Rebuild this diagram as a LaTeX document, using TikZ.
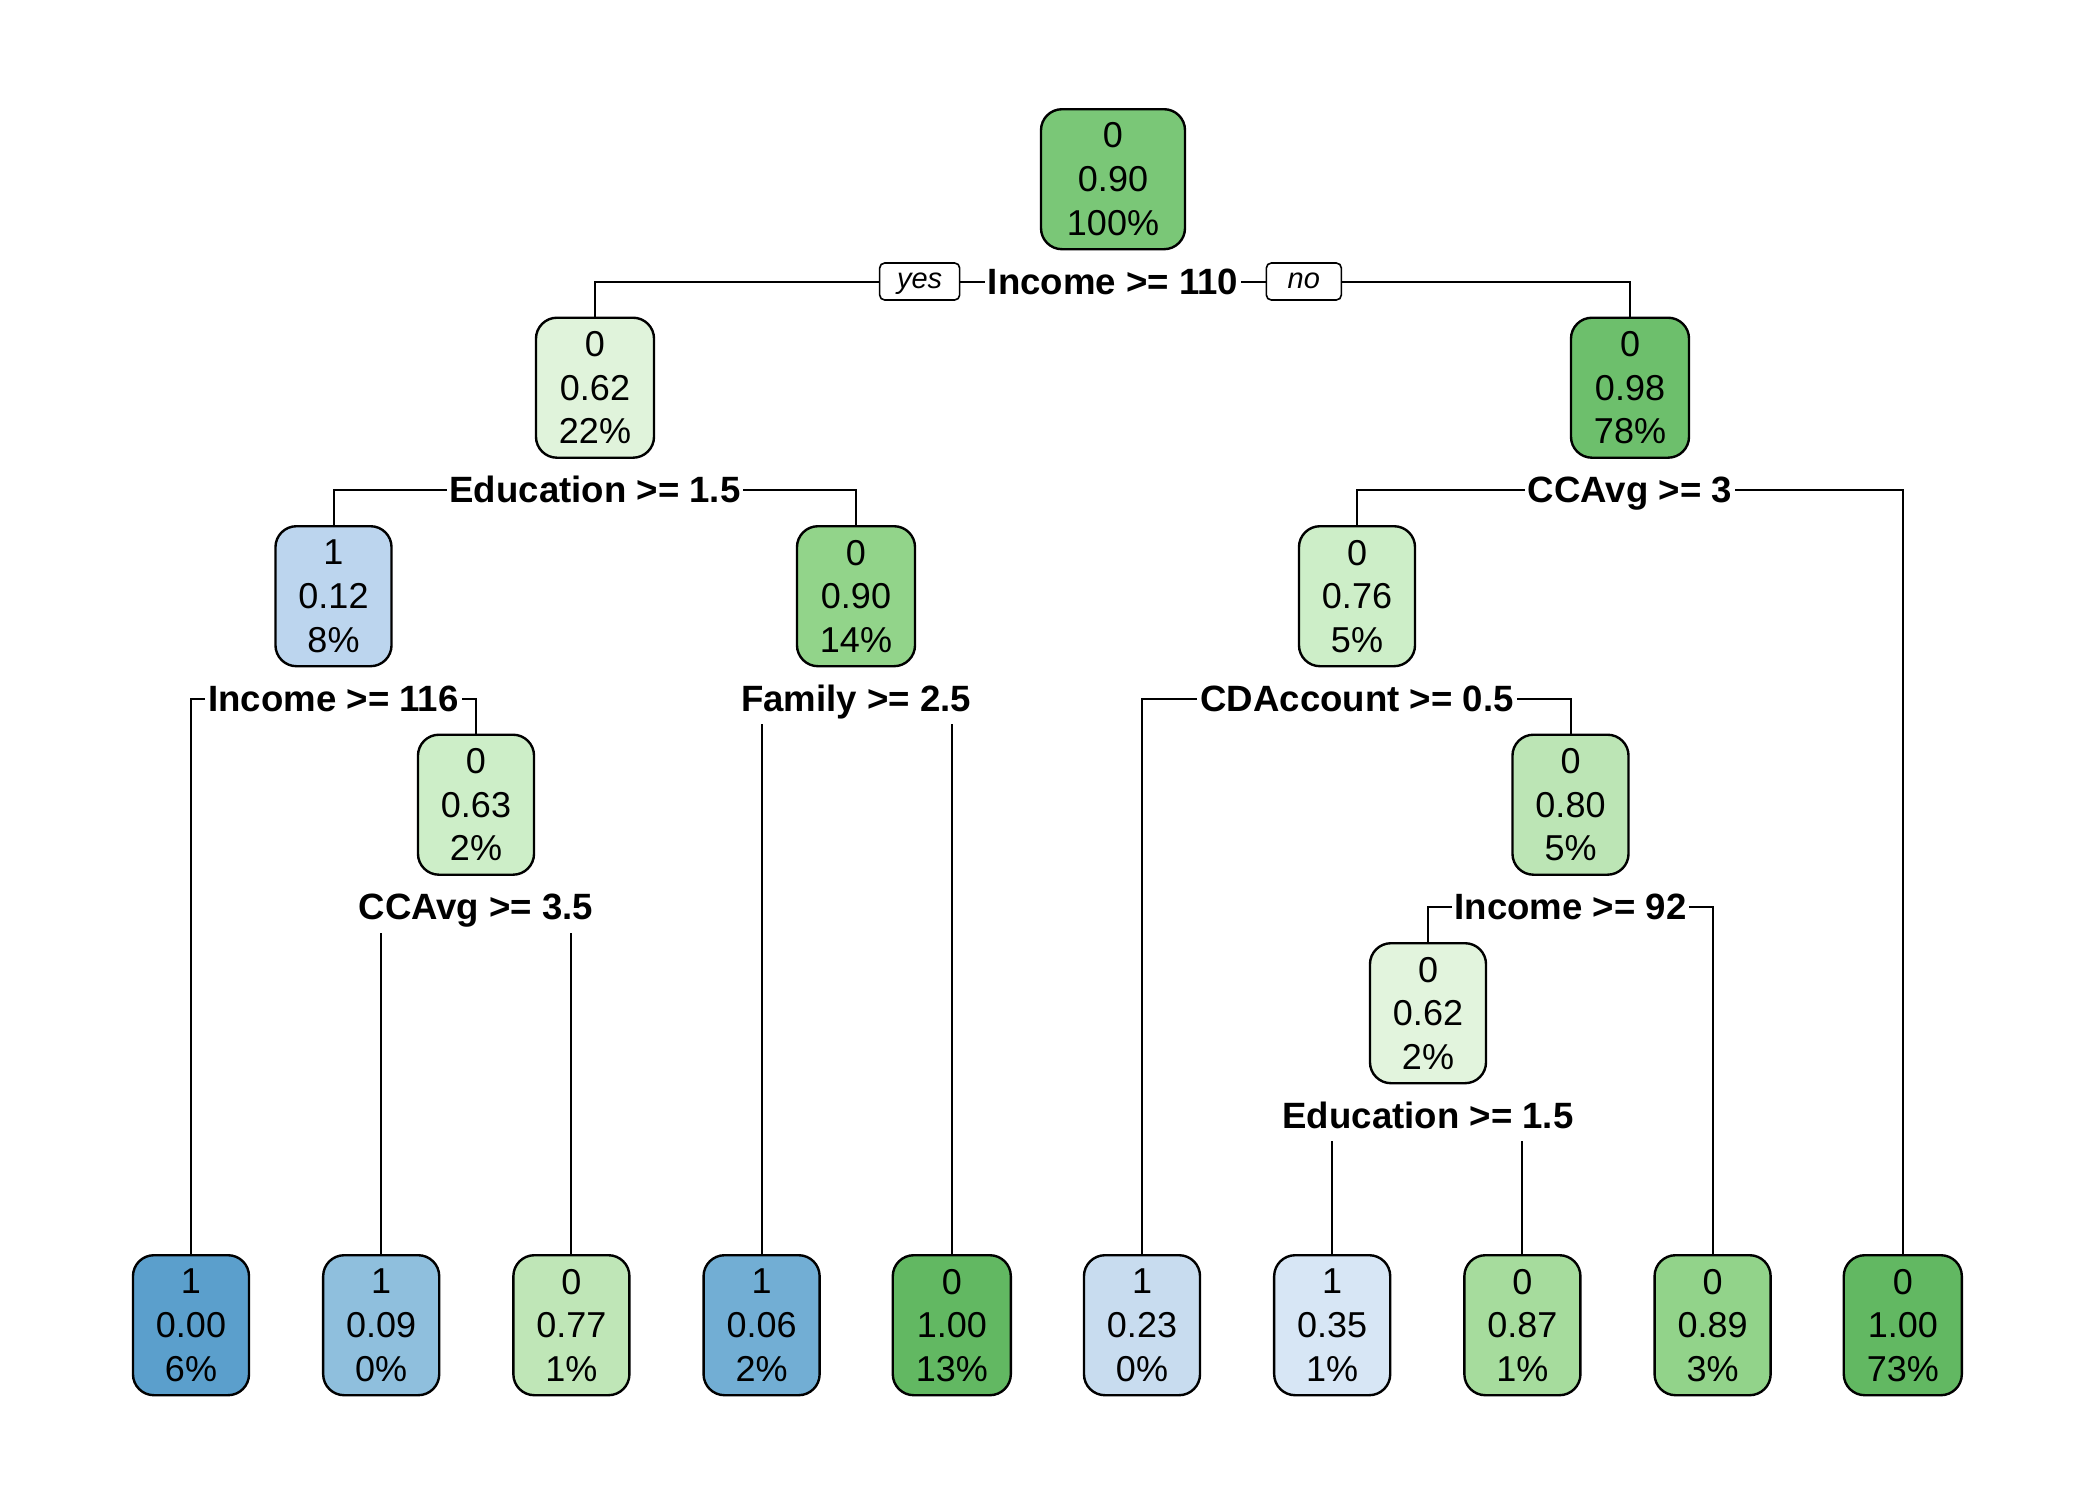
\documentclass[tikz,border=0pt]{standalone}
\usepackage{fontspec}
\setmainfont{Liberation Sans}
\definecolor{cRoot}{HTML}{7AC777}
\definecolor{cN2}{HTML}{E0F3DB}
\definecolor{cN3}{HTML}{6DBF6C}
\definecolor{cN4}{HTML}{BCD5EE}
\definecolor{cN5}{HTML}{92D48A}
\definecolor{cN7}{HTML}{CDEEC8}
\definecolor{cN9}{HTML}{CDEEC8}
\definecolor{cN15}{HTML}{BCE5B5}
\definecolor{cN30}{HTML}{E2F4DD}
\definecolor{cL1}{HTML}{5B9FCC}
\definecolor{cL2}{HTML}{8FBFDD}
\definecolor{cL3}{HTML}{BFE6B7}
\definecolor{cL4}{HTML}{72AED4}
\definecolor{cL5}{HTML}{62B862}
\definecolor{cL6}{HTML}{C8DCEF}
\definecolor{cL7}{HTML}{D7E6F5}
\definecolor{cL8}{HTML}{A6DC9D}
\definecolor{cL9}{HTML}{92D38A}
\definecolor{cL10}{HTML}{62B862}
\begin{document}
\begin{tikzpicture}[x=0.5pt,y=-0.5pt,
  box/.style={draw=black, line width=1.2pt, rounded corners=10.5pt, minimum height=70pt,
    inner xsep=11.5pt, inner ysep=0pt, align=center, anchor=north,
    font=\fontsize{18}{21.8}\selectfont},
  conn/.style={draw=black, line width=1pt},
  lbl/.style={fill=white, inner xsep=1.5pt, inner ysep=0pt, text height=13pt, text depth=6.5pt,
    anchor=base, font=\bfseries\fontsize{18.3}{21.8}\selectfont},
  yn/.style={draw=black, fill=white, line width=0.8pt, rounded corners=2.5pt, minimum height=18.5pt,
    inner ysep=0pt, inner xsep=0pt, text height=7.4pt, text depth=0pt, anchor=east,
    font=\itshape\fontsize{14.5}{16}\selectfont}]
\useasboundingbox (0,0) rectangle (2100,1500);
% inner nodes
\node[box, fill=cRoot, minimum width=72pt] (n1) at (1113,108) {0\\0.90\\100\%};
\node[box, fill=cN2] (n2) at (595,316.5) {0\\0.62\\22\%};
\node[box, fill=cN3] (n3) at (1630,316.5) {0\\0.98\\78\%};
\node[box, fill=cN4] (n4) at (333.5,525) {1\\0.12\\8\%};
\node[box, fill=cN5] (n5) at (856,525) {0\\0.90\\14\%};
\node[box, fill=cN7] (n7) at (1357,525) {0\\0.76\\5\%};
\node[box, fill=cN9] (n9) at (476,733.5) {0\\0.63\\2\%};
\node[box, fill=cN15] (n15) at (1570.5,733.5) {0\\0.80\\5\%};
\node[box, fill=cN30] (n30) at (1428,942) {0\\0.62\\2\%};
% leaves
\node[box, fill=cL1] (l1) at (191,1254) {1\\0.00\\6\%};
\node[box, fill=cL2] (l2) at (381.2,1254) {1\\0.09\\0\%};
\node[box, fill=cL3] (l3) at (571.4,1254) {0\\0.77\\1\%};
\node[box, fill=cL4] (l4) at (761.6,1254) {1\\0.06\\2\%};
\node[box, fill=cL5] (l5) at (951.8,1254) {0\\1.00\\13\%};
\node[box, fill=cL6] (l6) at (1142,1254) {1\\0.23\\0\%};
\node[box, fill=cL7] (l7) at (1332.2,1254) {1\\0.35\\1\%};
\node[box, fill=cL8] (l8) at (1522.4,1254) {0\\0.87\\1\%};
\node[box, fill=cL9] (l9) at (1712.6,1254) {0\\0.89\\3\%};
\node[box, fill=cL10] (l10) at (1902.8,1254) {0\\1.00\\73\%};
% split points
\coordinate (s1) at (1113,281.5);
\coordinate (s2) at (595,490);
\coordinate (s3) at (1630,490);
\coordinate (s4) at (333.5,698.5);
\coordinate (s5) at (856,698.5);
\coordinate (s7) at (1357,698.5);
\coordinate (s9) at (476,907);
\coordinate (s15) at (1570.5,907);
\coordinate (s30) at (1428,1115.5);
% connectors
\draw[conn] (n2.north) |- (s1) -| (n3.north);
\draw[conn] (n4.north) |- (s2) -| (n5.north);
\draw[conn] (n7.north) |- (s3) -| (l10.north);
\draw[conn] (l1.north) |- (s4) -| (n9.north);
\draw[conn] (l4.north) |- (s5) -| (l5.north);
\draw[conn] (l6.north) |- (s7) -| (n15.north);
\draw[conn] (l2.north) |- (s9) -| (l3.north);
\draw[conn] (n30.north) |- (s15) -| (l9.north);
\draw[conn] (l7.north) |- (s30) -| (l8.north);
% split labels
\node[lbl] (t1) at ([yshift=-6.45pt]s1) {Income >= 110};
\node[lbl] (t2) at ([yshift=-6.45pt]s2) {Education >= 1.5};
\node[lbl] (t3) at ([yshift=-6.45pt]s3) {CCAvg >= 3};
\node[lbl] (t4) at ([yshift=-6.45pt]s4) {Income >= 116};
\node[lbl] (t5) at ([yshift=-6.45pt]s5) {Family >= 2.5};
\node[lbl] (t7) at ([yshift=-6.45pt]s7) {CDAccount >= 0.5};
\node[lbl] (t9) at ([yshift=-6.45pt]s9) {CCAvg >= 3.5};
\node[lbl] (t15) at ([yshift=-6.45pt]s15) {Income >= 92};
\node[lbl] (t30) at ([yshift=-6.45pt]s30) {Education >= 1.5};
% yes / no
\node[yn, minimum width=40pt] (yes) at ([xshift=-12pt]t1.west |- s1) {yes};
\node[yn, minimum width=37.5pt, anchor=west] (no) at ([xshift=12pt]t1.east |- s1) {no};
\end{tikzpicture}
\end{document}
